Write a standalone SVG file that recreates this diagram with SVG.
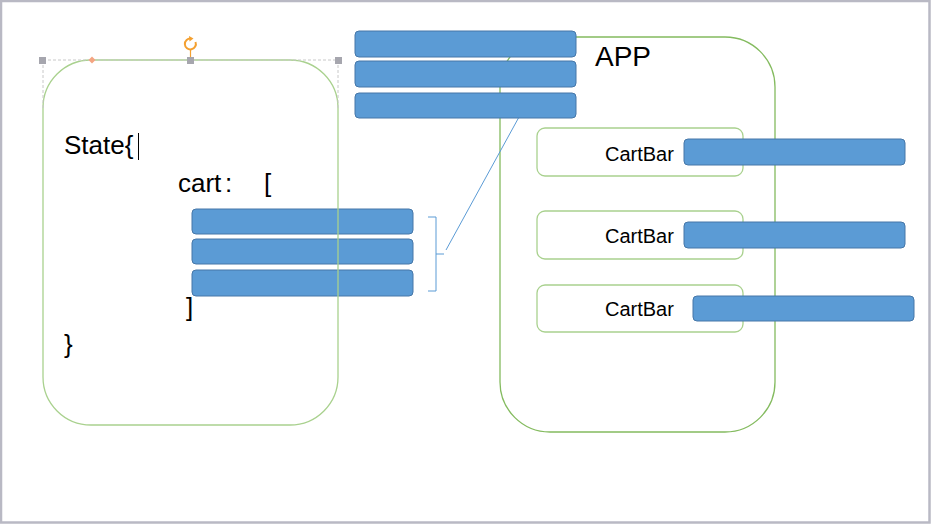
<svg xmlns="http://www.w3.org/2000/svg" width="931" height="524" viewBox="0 0 931 524">
<style>
.bar{fill:#5b9bd5;stroke:#4677a8;stroke-width:1}
.g{fill:none;stroke:#a9d18e;stroke-width:1.3}
.app{fill:none;stroke:#84bb5f;stroke-width:1.3}
.t{font-family:"Liberation Sans",Arial,sans-serif;fill:#000}
.h{fill:#a6a6ae}
</style>
<rect x="0" y="0" width="931" height="524" fill="#fff"/>
<rect x="1" y="1" width="928.5" height="521.5" fill="none" stroke="#b9b9c4" stroke-width="2.5"/>

<g id="app">
<rect class="app" x="500" y="37" width="275" height="395" rx="50" ry="50"/>
<text class="t" x="595" y="66" font-size="28">APP</text>
</g>

<g id="connectors">
<path d="M428,217 H436 V291 H428 M436,254 H444" fill="none" stroke="#5b9bd5" stroke-width="1"/>
<line x1="446" y1="250" x2="519" y2="117" stroke="#5b9bd5" stroke-width="1"/>
</g>

<g id="top-bars">
<rect class="bar" x="355" y="31" width="221" height="26" rx="4"/>
<rect class="bar" x="355" y="61" width="221" height="26" rx="4"/>
<rect class="bar" x="355" y="93" width="221" height="25" rx="4"/>
</g>

<g id="cartbar1">
<rect class="g" x="537" y="128" width="206" height="48" rx="8"/>
<text class="t" x="605" y="161" font-size="20">CartBar</text>
<rect class="bar" x="684" y="139" width="221" height="26" rx="4"/>
</g>
<g id="cartbar2">
<rect class="g" x="537" y="211" width="206" height="48" rx="8"/>
<text class="t" x="605" y="243" font-size="20">CartBar</text>
<rect class="bar" x="684" y="222" width="221" height="26" rx="4"/>
</g>
<g id="cartbar3">
<rect class="g" x="537" y="285" width="206" height="47" rx="8"/>
<text class="t" x="605" y="316" font-size="20">CartBar</text>
<rect class="bar" x="693" y="296" width="221" height="25" rx="4"/>
</g>

<g id="cart-bars">
<rect class="bar" x="192" y="209" width="221" height="25" rx="4"/>
<rect class="bar" x="192" y="239" width="221" height="25" rx="4"/>
<rect class="bar" x="192" y="270" width="221" height="26" rx="4"/>
</g>

<g id="state">
<rect class="g" x="43" y="60" width="295" height="365" rx="48" ry="48"/>
<text class="t" x="64" y="154" font-size="26">State{</text>
<line x1="138.5" y1="133" x2="138.5" y2="160" stroke="#000" stroke-width="1"/>
<text class="t" x="178" y="192" font-size="26">cart</text>
<text class="t" x="225" y="192" font-size="26">:</text>
<text class="t" x="264" y="192" font-size="26">[</text>
<text class="t" x="186" y="316" font-size="26">]</text>
<text class="t" x="64" y="353" font-size="26">}</text>
</g>

<g id="selection">
<path d="M43,60 H338 M43,60 V110 M338,60 V110" fill="none" stroke="#c8c8c8" stroke-width="1" stroke-dasharray="3,2"/>
<rect class="h" x="39" y="57" width="7" height="7"/>
<rect class="h" x="187" y="57" width="7" height="7"/>
<rect class="h" x="335" y="57" width="7" height="7"/>
<line x1="190.5" y1="50" x2="190.5" y2="57" stroke="#f4a030" stroke-width="1.2"/>
<path d="M195.5,42 A5.5,5.5 0 1 1 191,38.5" fill="none" stroke="#f4a030" stroke-width="2"/>
<path d="M189,36 L193.5,38.5 L189.5,41.5 Z" fill="#f4a030"/>
<path d="M92,56.5 L95.5,60 L92,63.5 L88.5,60 Z" fill="#f4a582"/>
</g>
</svg>
